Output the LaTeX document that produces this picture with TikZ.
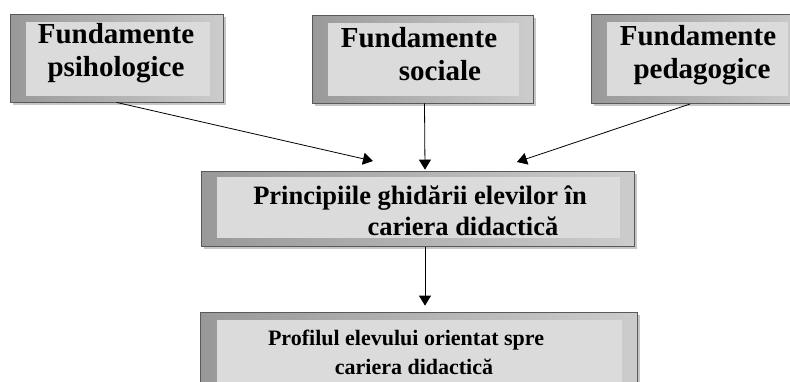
\documentclass[tikz,border=0pt]{standalone}
\usepackage{fontspec}
\setmainfont{Liberation Serif}
\usetikzlibrary{shadows,arrows.meta,calc}
\begin{document}
\begin{tikzpicture}[x=1pt,y=-1pt,
  frame/.style={rectangle, draw=gray!70!black, line width=0.8pt,
    left color=gray!80, right color=gray!40, inner sep=0pt,
    drop shadow={shadow xshift=3pt, shadow yshift=-3pt, fill=gray!45, opacity=1}},
  innerfill/.style={fill=gray!28},
  lbl/.style={align=center, inner sep=0pt, anchor=base, font=\bfseries},
  arr/.style={line width=0.8pt, -{Triangle[length=10pt,width=12pt]}}]
\useasboundingbox (0,0) rectangle (790,381);
\clip (0,0) rectangle (790,381);
% boxes
\node[frame, minimum width=213, minimum height=88] (b1) at (116.5,58) {};
\node[frame, minimum width=221, minimum height=88] (b2) at (422.5,59) {};
\node[frame, minimum width=212, minimum height=89] (b3) at (697,58.5) {};
\node[frame, minimum width=433, minimum height=75] (mid) at (417.5,208.5) {};
\node[frame, minimum width=437, minimum height=84] (bot) at (418.5,354) {};
% inner panels
\fill[innerfill] ($(b1.north west)+(16,8)$) rectangle ($(b1.south east)+(-13,-6)$);
\fill[innerfill] ($(b2.north west)+(16,8)$) rectangle ($(b2.south east)+(-14,-7)$);
\fill[innerfill] ($(b3.north west)+(16,8)$) rectangle ($(b3.south east)+(-15,-7)$);
\fill[innerfill] ($(mid.north west)+(16,6)$) rectangle ($(mid.south east)+(-14,-8)$);
\fill[innerfill] ($(bot.north west)+(17,8)$) rectangle ($(bot.south east)+(-15,-8)$);
% texts
\node[lbl, font=\bfseries\fontsize{29}{33}\selectfont] (t1) at (116,76) {Fundamente\\psihologice};
\node[lbl, font=\bfseries\fontsize{29}{33}\selectfont] (t2) at (419,80) {Fundamente\\\hspace*{42pt}sociale};
\node[lbl, font=\bfseries\fontsize{29}{33}\selectfont] (t3) at (698,78) {Fundamente\\\hspace*{8pt}pedagogice};
\node[lbl, font=\bfseries\fontsize{26.5}{31}\selectfont] (t4) at (420,235) {Principiile ghidării elevilor în\\\hspace*{86pt}cariera didactică};
\node[lbl, font=\bfseries\fontsize{22}{29}\selectfont] (t5) at (406,374) {Profilul elevului orientat spre\\\hspace*{16pt}cariera didactică};
% connectors
\coordinate (s3) at (690,104);
\coordinate (e1) at (373,161);
\coordinate (e3) at (517,162);
\draw[arr] (b1.south) -- (e1);
\draw[arr] ($(b2.south)+(2,0)$) -- ($(mid.north)+(7.5,-1)$);
\draw[arr] (s3) -- (e3);
\draw[arr] ($(mid.south)+(7.5,1)$) -- ($(bot.north)+(6.5,-6)$);
\end{tikzpicture}
\end{document}
